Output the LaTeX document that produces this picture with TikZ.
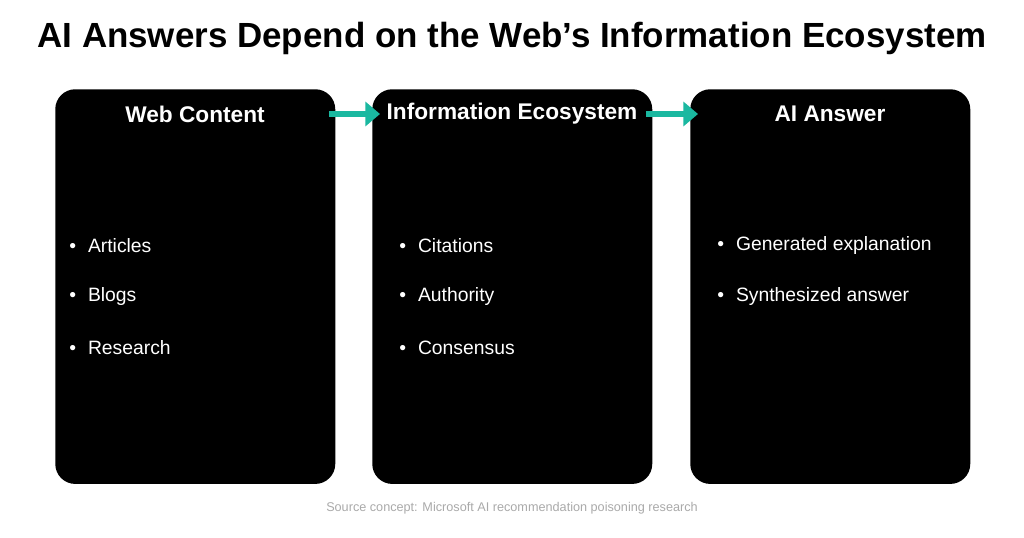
\documentclass[tikz,border=0pt]{standalone}
\usepackage{fontspec}
\setmainfont{Liberation Sans}
\usetikzlibrary{arrows.meta}
\definecolor{teal1}{RGB}{26,184,160}
\definecolor{srcgray}{RGB}{170,170,170}
\tikzset{
  panel/.style={fill=black,rounded corners=15pt,minimum width=210pt,minimum height=296pt,anchor=north west,inner sep=0},
  head/.style={text=white,font=\bfseries\fontsize{17}{20}\selectfont,anchor=center,inner sep=0.75},
  item/.style={text=white,font=\fontsize{14.5}{17}\selectfont,anchor=west,inner sep=0.75},
  flow/.style={draw=teal1,line width=4,-{Triangle[length=11,width=18]}}
}
\begin{document}
\begin{tikzpicture}[x=0.75pt,y=0.75pt,yscale=-1,xscale=1]
\useasboundingbox[fill=white] (0,0) rectangle (1024,538);

% Title
\node (title) at (512,38) {\bfseries\fontsize{26.2}{30}\selectfont AI Answers Depend on the Web’s Information Ecosystem};

% Panels
\node[panel] (web) at (55,89) {};
\node[panel] (eco) at (372,89) {};
\node[panel] (ans) at (690,89) {};

% Headings
\node[head] (hweb) at (195,114) {Web Content};
\node[head] (heco) at (512,114) {Information Ecosystem};
\node[head] (hans) at (830,114) {AI Answer};

% Items
\node[item] (w1) at (68,246) {\textbullet\hspace{9pt}Articles};
\node[item] (w2) at (68,297) {\textbullet\hspace{9pt}Blogs};
\node[item] (w3) at (68,348) {\textbullet\hspace{9pt}Research};
\node[item] (e1) at (398,246) {\textbullet\hspace{9pt}Citations};
\node[item] (e2) at (398,297) {\textbullet\hspace{9pt}Authority};
\node[item] (e3) at (398,348) {\textbullet\hspace{9pt}Consensus};
\node[item] (a1) at (716,246) {\textbullet\hspace{9pt}Generated explanation};
\node[item] (a2) at (716,297) {\textbullet\hspace{9pt}Synthesized answer};

% Arrows
\draw[flow] ([xshift=-5]web.east |- hweb) -- ([xshift=6]eco.west |- hweb);
\draw[flow] ([xshift=-5]eco.east |- heco) -- ([xshift=6]ans.west |- heco);

% Source
\node[text=srcgray,font=\fontsize{9.5}{11}\selectfont] (src) at (512,508) {Source concept: Microsoft AI recommendation poisoning research};
\end{tikzpicture}
\end{document}
